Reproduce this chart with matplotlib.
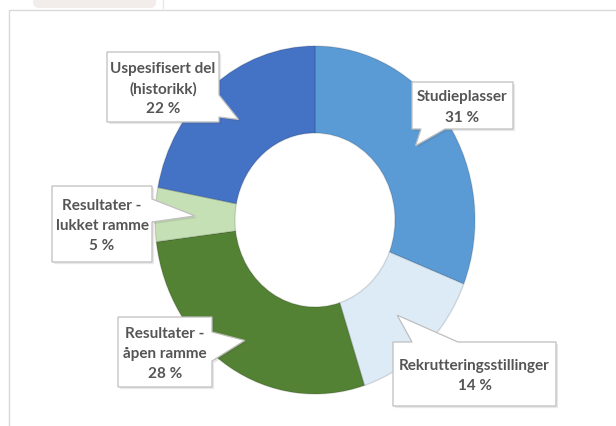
import matplotlib
matplotlib.use("Agg")
import matplotlib.pyplot as plt
from matplotlib.patches import Polygon, Rectangle, FancyBboxPatch
from matplotlib import patheffects as pe
import numpy as np

# data
labels = ["Studieplasser", "Rekrutteringsstillinger", "Resultater -\nåpen ramme",
          "Resultater -\nlukket ramme", "Uspesifisert del\n(historikk)"]
values = [31, 14, 28, 5, 22]
colors = ["#5B9BD5", "#DDEBF7", "#548235", "#C5E0B4", "#4472C4"]

# callout layout (pixel coords, y down): box, side of pointer, pointer base, tip radius
boxes = [(412, 83, 513, 130), (393, 343, 556, 407), (118, 318, 212, 388),
         (52, 187, 152, 263), (107, 53, 219, 123)]
sides = ["bottom", "top", "right", "right", "right"]
bases = [(421, 445), (412, 458), (333, 362), (200, 223), (96, 118)]
tip_r = [0.76, 0.75, 0.82, 0.75, 0.75]

W, H = 616, 427
fig = plt.figure(figsize=(W / 100, H / 100), dpi=100)

bg = fig.add_axes([0, 0, 1, 1])
bg.set_xlim(0, W)
bg.set_ylim(H, 0)
bg.axis("off")
bg.add_patch(FancyBboxPatch((33, -10), 123, 19, boxstyle="round,pad=0,rounding_size=6",
                            fc="#F2EDEB", ec="none"))
bg.plot([163, 163], [0, 9], color="#E8E8E8", lw=1)
bg.add_patch(Rectangle((8.5, 10.5), W, H, fc="white", ec="#D9D9D9", lw=1))

pie_ax = fig.add_axes([155 / W, (H - 395) / H, 320 / W, 348 / H])
pie_ax.pie(values, colors=colors, startangle=90, counterclock=False, radius=1,
           wedgeprops=dict(width=0.5, edgecolor=(0, 0, 0, 0.13), linewidth=1))
pie_ax.set_aspect("auto")
pie_ax.set_xlim(-1, 1)
pie_ax.set_ylim(-1, 1)
pie_ax.axis("off")

ov = fig.add_axes([0, 0, 1, 1])
ov.set_xlim(0, W)
ov.set_ylim(H, 0)
ov.axis("off")

cum = 0
for lab, v, box, side, (a, b), r in zip(labels, values, boxes, sides, bases, tip_r):
    th = np.deg2rad(90 - (cum + v / 2) * 3.6)
    cum += v
    disp = pie_ax.transData.transform((r * np.cos(th), r * np.sin(th)))
    tx, ty = ov.transData.inverted().transform(disp)
    x0, y0, x1, y1 = box
    pts = [(x0, y0)]
    if side == "top":
        pts += [(a, y0), (tx, ty), (b, y0)]
    pts += [(x1, y0)]
    if side == "right":
        pts += [(x1, a), (tx, ty), (x1, b)]
    pts += [(x1, y1)]
    if side == "bottom":
        pts += [(b, y1), (tx, ty), (a, y1)]
    pts += [(x0, y1)]
    poly = Polygon(pts, closed=True, fc="white", ec="#BFBFBF", lw=0.9, joinstyle="miter")
    poly.set_path_effects([pe.SimplePatchShadow(offset=(1.5, -1.5), alpha=0.12), pe.Normal()])
    ov.add_patch(poly)
    ov.text((x0 + x1) / 2, (y0 + y1) / 2 + 1, f"{lab}\n{v} %", ha="center", va="center",
            family="Lato", weight="bold", fontsize=11, color="#555555", linespacing=1.55)

fig.savefig("out.png", dpi=100)
